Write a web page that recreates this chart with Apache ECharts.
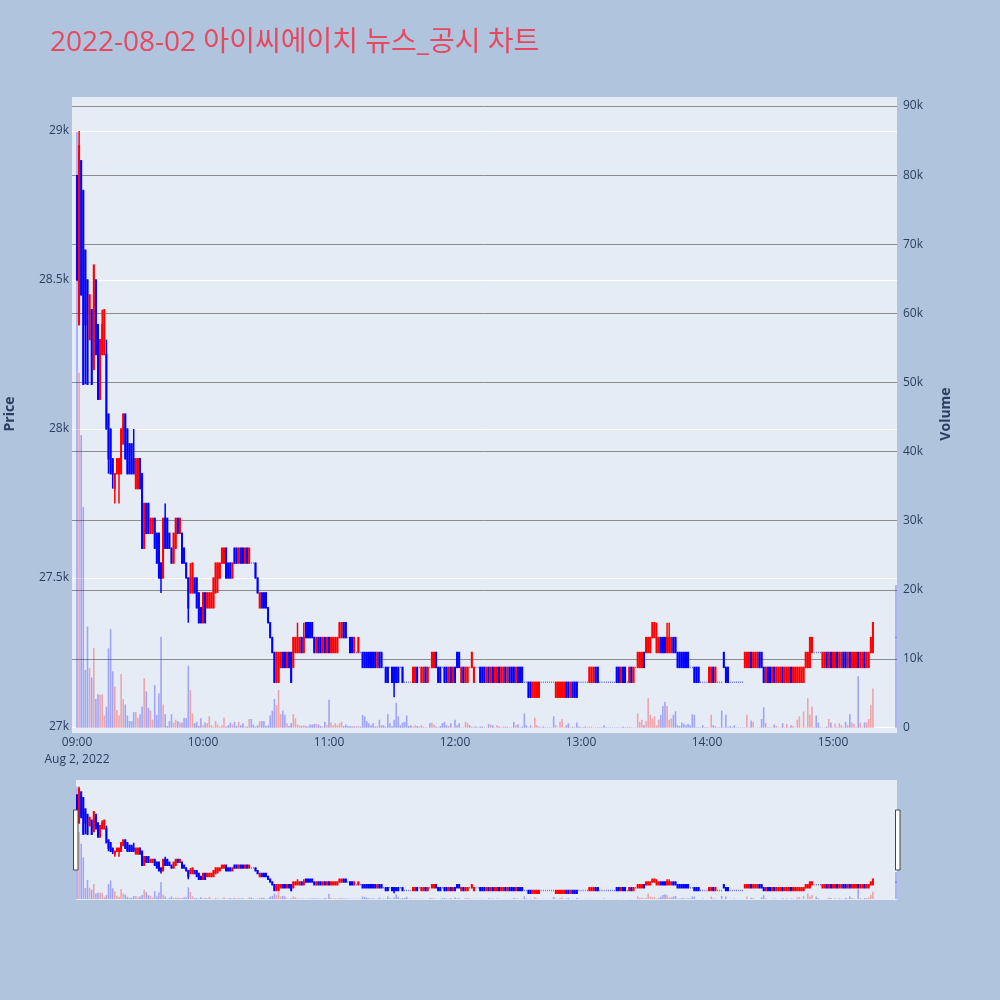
<!DOCTYPE html>
<html>
<head>
<meta charset="utf-8">
<title>2022-08-02 아이씨에이치 뉴스_공시 차트</title>
<script src="https://cdn.jsdelivr.net/npm/echarts@6/dist/echarts.min.js"></script>
<style>
  html, body { margin: 0; padding: 0; background: #b0c4de; }
  #main { width: 1000px; height: 1000px; }
</style>
</head>
<body>
<div id="main"></div>
<script>
// 1분봉 [시가, 종가, 저가, 고가] : 09:00 ~ 15:19, 마지막 행은 15:30 종가 단일가
const ohlc = [
  // 09:00
  [28850,28500,28500,28850],[28350,28950,28350,29000],[28900,28450,28450,28900],[28800,28150,28150,28800],[28600,28350,28150,28600],
  [28500,28150,28150,28500],[28300,28450,28300,28450],[28400,28150,28150,28400],[28200,28550,28200,28550],[28500,28250,28250,28500],
  [28350,28100,28100,28350],[28100,28300,28100,28300],[28250,28350,28250,28400],[28250,28400,28250,28400],[28250,28000,28000,28300],
  [28050,27900,27850,28050],[28000,27850,27850,28000],[27900,27850,27800,27900],[27800,27850,27750,27850],[27850,27900,27850,27900],
  [27850,27900,27750,27900],[27850,28000,27850,28000],[27950,28050,27950,28050],[28050,27900,27900,28050],[28000,27850,27850,28000],
  [27950,27850,27850,27950],[27950,27850,27850,27950],[27900,27850,27850,28000],[27800,27900,27800,27900],[27800,27900,27800,27900],
  [27900,27800,27800,27900],[27850,27600,27600,27850],[27600,27750,27600,27750],[27750,27650,27650,27750],[27750,27650,27650,27750],
  [27650,27700,27650,27700],[27650,27700,27650,27700],[27700,27600,27600,27700],[27650,27550,27550,27650],[27650,27500,27500,27650],
  [27550,27500,27450,27550],[27500,27700,27500,27700],[27700,27600,27600,27750],[27700,27600,27600,27700],[27650,27600,27600,27650],
  [27600,27550,27550,27600],[27550,27650,27550,27650],[27600,27700,27600,27700],[27700,27650,27650,27700],[27650,27700,27650,27700],
  [27650,27550,27550,27650],[27600,27550,27550,27600],[27550,27500,27500,27550],[27500,27400,27350,27500],[27450,27500,27450,27550],
  [27450,27550,27450,27550],[27500,27450,27450,27500],[27500,27400,27400,27500],[27450,27350,27350,27450],[27400,27350,27350,27400],
  // 10:00
  [27350,27450,27350,27450],[27450,27350,27350,27450],[27400,27450,27400,27450],[27400,27450,27400,27450],[27400,27450,27400,27450],
  [27400,27500,27400,27500],[27450,27550,27450,27550],[27500,27550,27450,27550],[27500,27550,27500,27550],[27550,27600,27550,27600],
  [27550,27600,27550,27600],[27600,27500,27500,27600],[27550,27500,27500,27550],[27550,27500,27500,27550],[27500,27550,27500,27550],
  [27600,27550,27550,27600],[27600,27550,27550,27600],[27550,27600,27550,27600],[27600,27550,27550,27600],[27600,27550,27550,27600],
  [27550,27600,27550,27600],[27600,27550,27550,27600],[27550,27600,27550,27600],[27550,27550,27550,27550],[27550,27550,27550,27550],
  [27550,27500,27500,27550],[27500,27450,27450,27500],[27400,27450,27400,27450],[27450,27400,27400,27450],[27450,27400,27400,27450],
  [27450,27400,27400,27450],[27400,27350,27350,27400],[27350,27300,27300,27350],[27300,27250,27250,27300],[27250,27150,27150,27250],
  [27150,27250,27150,27250],[27150,27250,27150,27250],[27200,27250,27200,27250],[27250,27200,27200,27250],[27250,27200,27200,27250],
  [27200,27250,27200,27250],[27250,27200,27200,27250],[27250,27150,27150,27250],[27200,27300,27200,27300],[27250,27300,27250,27300],
  [27250,27300,27250,27350],[27250,27300,27250,27300],[27300,27250,27250,27300],[27250,27300,27250,27350],[27350,27300,27300,27350],
  [27350,27300,27300,27350],[27350,27300,27300,27350],[27350,27300,27300,27350],[27300,27250,27250,27300],[27250,27300,27250,27300],
  [27300,27250,27250,27300],[27300,27250,27250,27300],[27250,27300,27250,27300],[27300,27250,27250,27300],[27250,27300,27250,27300],
  // 11:00
  [27300,27250,27250,27300],[27250,27300,27250,27300],[27250,27300,27250,27300],[27250,27300,27250,27300],[27250,27300,27250,27300],
  [27300,27350,27300,27350],[27300,27350,27300,27350],[27350,27300,27300,27350],[27350,27300,27300,27350],[27300,27300,27300,27300],
  [27300,27250,27250,27300],[27300,27250,27250,27300],[27250,27300,27250,27300],[27250,27250,27250,27250],[27250,27300,27250,27300],
  [27250,27250,27250,27250],[27250,27200,27200,27250],[27250,27200,27200,27250],[27250,27200,27200,27250],[27250,27200,27200,27250],
  [27250,27200,27200,27250],[27250,27200,27200,27250],[27250,27200,27200,27250],[27200,27250,27200,27250],[27250,27200,27200,27250],
  [27250,27200,27200,27250],[27200,27200,27200,27200],[27200,27150,27150,27200],[27200,27150,27150,27200],[27200,27200,27200,27200],
  [27200,27150,27150,27200],[27200,27150,27100,27200],[27200,27150,27150,27200],[27200,27150,27150,27200],[27200,27200,27200,27200],
  [27200,27150,27150,27200],[27150,27150,27150,27150],[27150,27150,27150,27150],[27150,27150,27150,27150],[27150,27150,27150,27150],
  [27150,27200,27150,27200],[27150,27200,27150,27200],[27200,27150,27150,27200],[27200,27200,27200,27200],[27150,27200,27150,27200],
  [27150,27200,27150,27200],[27200,27150,27150,27200],[27150,27200,27150,27200],[27200,27200,27200,27200],[27200,27250,27200,27250],
  [27200,27250,27200,27250],[27250,27200,27200,27250],[27200,27150,27150,27200],[27200,27150,27150,27200],[27200,27200,27200,27200],
  [27200,27150,27150,27200],[27200,27150,27150,27200],[27150,27200,27150,27200],[27200,27150,27150,27200],[27150,27200,27150,27200],
  // 12:00
  [27200,27150,27150,27200],[27250,27200,27200,27250],[27250,27200,27200,27250],[27150,27200,27150,27200],[27200,27150,27150,27200],
  [27150,27200,27150,27200],[27150,27200,27150,27200],[27200,27200,27200,27200],[27200,27250,27200,27250],[27150,27200,27150,27200],
  [27200,27200,27200,27200],[27200,27200,27200,27200],[27200,27150,27150,27200],[27200,27150,27150,27200],[27200,27150,27150,27200],
  [27150,27200,27150,27200],[27200,27150,27150,27200],[27150,27200,27150,27200],[27200,27150,27150,27200],[27150,27200,27150,27200],
  [27150,27200,27150,27200],[27200,27150,27150,27200],[27150,27200,27150,27200],[27150,27200,27150,27200],[27200,27150,27150,27200],
  [27150,27200,27150,27200],[27200,27150,27150,27200],[27200,27150,27150,27200],[27200,27150,27150,27200],[27150,27200,27150,27200],
  [27200,27150,27150,27200],[27200,27150,27150,27200],[27200,27150,27150,27200],[27150,27150,27150,27150],[27150,27150,27150,27150],
  [27150,27100,27100,27150],[27150,27100,27100,27150],[27100,27150,27100,27150],[27100,27150,27100,27150],[27100,27150,27100,27150],
  [27100,27150,27100,27150],[27150,27150,27150,27150],[27150,27150,27150,27150],[27150,27150,27150,27150],[27150,27150,27150,27150],
  [27150,27150,27150,27150],[27150,27150,27150,27150],[27150,27150,27150,27150],[27100,27150,27100,27150],[27100,27150,27100,27150],
  [27100,27150,27100,27150],[27100,27150,27100,27150],[27100,27150,27100,27150],[27150,27100,27100,27150],[27150,27100,27100,27150],
  [27100,27150,27100,27150],[27150,27100,27100,27150],[27150,27100,27100,27150],[27150,27100,27100,27150],[27150,27150,27150,27150],
  // 13:00
  [27150,27150,27150,27150],[27150,27150,27150,27150],[27150,27150,27150,27150],[27150,27150,27150,27150],[27150,27200,27150,27200],
  [27150,27200,27150,27200],[27150,27200,27150,27200],[27200,27150,27150,27200],[27200,27150,27150,27200],[27150,27150,27150,27150],
  [27150,27150,27150,27150],[27150,27150,27150,27150],[27150,27150,27150,27150],[27150,27150,27150,27150],[27150,27150,27150,27150],
  [27150,27150,27150,27150],[27150,27150,27150,27150],[27200,27150,27150,27200],[27200,27150,27150,27200],[27150,27200,27150,27200],
  [27200,27150,27150,27200],[27200,27150,27150,27200],[27150,27150,27150,27150],[27150,27200,27150,27200],[27200,27150,27150,27200],
  [27150,27200,27150,27200],[27200,27200,27200,27200],[27200,27250,27200,27250],[27200,27250,27200,27250],[27200,27250,27200,27250],
  [27250,27200,27200,27250],[27250,27300,27250,27300],[27250,27300,27250,27300],[27250,27300,27250,27300],[27300,27350,27300,27350],
  [27300,27350,27300,27350],[27250,27300,27250,27350],[27250,27300,27250,27300],[27300,27250,27250,27300],[27300,27250,27250,27300],
  [27300,27250,27250,27300],[27250,27300,27250,27350],[27250,27300,27250,27350],[27250,27300,27250,27300],[27300,27250,27250,27300],
  [27300,27250,27250,27300],[27250,27200,27200,27250],[27250,27200,27200,27250],[27250,27200,27200,27250],[27250,27200,27200,27250],
  [27250,27200,27200,27250],[27250,27200,27200,27250],[27200,27200,27200,27200],[27200,27200,27200,27200],[27200,27150,27150,27200],
  [27200,27150,27150,27200],[27200,27150,27150,27200],[27150,27150,27150,27150],[27150,27150,27150,27150],[27150,27150,27150,27150],
  // 14:00
  [27150,27150,27150,27150],[27150,27200,27150,27200],[27150,27200,27150,27200],[27200,27150,27150,27200],[27150,27200,27150,27200],
  [27150,27150,27150,27150],[27150,27150,27150,27150],[27150,27150,27150,27150],[27250,27200,27200,27250],[27200,27150,27150,27200],
  [27200,27150,27150,27200],[27150,27150,27150,27150],[27150,27150,27150,27150],[27150,27150,27150,27150],[27150,27150,27150,27150],
  [27150,27150,27150,27150],[27150,27150,27150,27150],[27150,27150,27150,27150],[27200,27250,27200,27250],[27200,27250,27200,27250],
  [27200,27250,27200,27250],[27250,27200,27200,27250],[27200,27250,27200,27250],[27200,27250,27200,27250],[27200,27250,27200,27250],
  [27250,27200,27200,27250],[27250,27200,27200,27250],[27200,27150,27150,27200],[27150,27200,27150,27200],[27200,27150,27150,27200],
  [27200,27150,27150,27200],[27150,27200,27150,27200],[27200,27150,27150,27200],[27150,27200,27150,27200],[27150,27200,27150,27200],
  [27150,27200,27150,27200],[27200,27150,27150,27200],[27150,27200,27150,27200],[27150,27200,27150,27200],[27150,27200,27150,27200],
  [27200,27150,27150,27200],[27150,27200,27150,27200],[27150,27200,27150,27200],[27150,27200,27150,27200],[27150,27200,27150,27200],
  [27150,27200,27150,27200],[27150,27200,27150,27200],[27200,27250,27200,27250],[27200,27250,27200,27250],[27200,27300,27200,27300],
  [27250,27300,27250,27300],[27250,27250,27250,27250],[27250,27250,27250,27250],[27250,27250,27250,27250],[27250,27250,27250,27250],
  [27200,27250,27200,27250],[27200,27250,27200,27250],[27250,27200,27200,27250],[27200,27250,27200,27250],[27250,27200,27200,27250],
  // 15:00
  [27200,27250,27200,27250],[27200,27250,27200,27250],[27250,27200,27200,27250],[27200,27250,27200,27250],[27200,27250,27200,27250],
  [27250,27200,27200,27250],[27250,27200,27200,27250],[27200,27250,27200,27250],[27250,27200,27200,27250],[27200,27250,27200,27250],
  [27200,27250,27200,27250],[27200,27250,27200,27250],[27250,27200,27200,27250],[27200,27250,27200,27250],[27200,27250,27200,27250],
  [27250,27200,27200,27250],[27200,27250,27200,27250],[27200,27250,27200,27250],[27250,27300,27250,27300],[27250,27350,27250,27350],
  // 15:30 종가
  [27300,27300,27300,27300]
];

// 분봉 거래량 (ohlc와 같은 순서)
const volumes = [
  86200,51400,42400,32000,8400,14700,8700,7300,11600,4200,
  4900,4800,4900,1800,3100,11500,14300,8200,6000,2600,
  1800,7800,4200,3400,1800,1000,1000,2300,2300,1500,
  2000,3100,7200,5300,2900,2500,1200,6200,1900,5000,
  13200,3400,2000,300,1000,2000,800,1200,1000,800,
  800,1500,1400,9000,5500,2100,700,900,300,1400,
  400,800,700,1700,400,200,1000,500,200,400,
  1500,200,400,800,500,900,300,900,400,700,
  200,200,1300,1300,500,200,400,1000,1000,1000,
  300,400,1800,2500,4200,3300,5500,2000,2500,1900,
  700,300,700,2000,1400,500,400,300,400,300,
  200,500,500,600,600,500,300,200,900,400,
  4100,800,400,700,400,700,900,300,500,300,
  300,200,300,200,300,200,1900,1700,1000,700,
  400,700,200,300,1200,400,400,200,2000,700,
  300,1200,3600,1700,400,800,900,1800,300,400,
  200,400,300,200,400,200,100,100,700,800,
  500,200,100,300,700,900,400,300,700,100,
  1200,400,700,100,100,900,700,400,200,200,
  200,100,200,200,100,100,600,500,400,100,
  400,200,100,200,200,200,100,100,900,400,
  500,100,200,2100,400,100,400,100,1500,400,
  200,100,200,100,100,100,100,1700,400,100,
  900,1300,100,400,700,100,200,100,800,200,
  100,100,200,100,200,200,100,100,100,100,
  100,400,100,100,100,100,100,100,100,100,
  200,100,100,200,100,100,100,2100,900,1200,
  400,1000,4300,1900,1400,1700,400,1200,1900,3200,
  3800,3200,1200,1400,1900,2400,400,300,800,600,
  400,600,400,2000,1900,100,100,100,400,100,
  100,100,1900,400,300,100,100,2500,100,1900,
  100,300,100,400,100,100,100,100,100,1900,
  100,1100,900,100,100,100,1300,3000,700,100,
  100,100,500,300,100,100,700,100,600,100,
  400,300,100,1200,1700,100,2400,100,4300,1900,
  3100,100,1800,800,100,100,100,200,1300,800,
  100,600,100,700,400,100,900,400,2000,800,
  600,100,7500,800,100,800,800,1300,3300,5700,
  20700
];

// x축: 09:00 기준 경과 분
const closeAuctionMinute = 390;
const tickMinutes = [0, 60, 120, 180, 240, 300, 360];
const tickLabels = ['09:00', '10:00', '11:00', '12:00', '13:00', '14:00', '15:00'];
const dateLabel = 'Aug 2, 2022';
const priceTicks = [27000, 27500, 28000, 28500, 29000];

const FONT = '"Open Sans", "Noto Sans CJK KR", sans-serif';
const TEXT = '#2a3f5f';
const UP = '#ff0000', DOWN = '#0000ff';
const X_MIN = -2.38, X_MAX = 390.48;
const BODY = 0.5, LINE = 1.5;

const minuteX = ohlc.map((r, i) => (i < ohlc.length - 1 ? i : closeAuctionMinute));
const candleData = ohlc.map((r, i) => [minuteX[i], r[0], r[1], r[2], r[3]]);
const volumeData = volumes.map((v, i) => ({
  value: [minuteX[i], v],
  itemStyle: { color: ohlc[i][1] > ohlc[i][0] ? 'rgba(255,0,0,0.3)' : 'rgba(0,0,255,0.3)' }
}));

// plotly 스타일 캔들 (몸통 채움 + 같은 색 테두리, 보합은 짧은 선)
function renderCandle(params, api) {
  const x = api.value(0), o = api.value(1), c = api.value(2), l = api.value(3), h = api.value(4);
  const pO = api.coord([x, o]), pC = api.coord([x, c]);
  const pL = api.coord([x, l]), pH = api.coord([x, h]);
  const color = c > o ? UP : DOWN;
  const top = Math.min(pO[1], pC[1]), bottom = Math.max(pO[1], pC[1]);
  return {
    type: 'group',
    children: [
      { type: 'line', shape: { x1: pO[0], y1: pH[1], x2: pO[0], y2: pL[1] },
        style: { stroke: color, lineWidth: LINE } },
      { type: 'rect', shape: { x: pO[0] - BODY / 2, y: top, width: BODY, height: bottom - top },
        style: { fill: color, stroke: color, lineWidth: LINE } }
    ]
  };
}

function hiddenX(gridIndex) {
  return { type: 'value', gridIndex: gridIndex, min: X_MIN, max: X_MAX, show: false };
}

var myChart = echarts.init(document.getElementById('main'));

var option = {
  backgroundColor: '#b0c4de',
  animation: false,
  title: {
    text: '2022-08-02 아이씨에이치 뉴스_공시 차트',
    left: 45,
    top: 24,
    textStyle: { fontFamily: FONT, fontSize: 28, fontWeight: 'normal', color: '#e8485f' }
  },
  graphic: [
    { type: 'rect', z: -10, shape: { x: 72, y: 97, width: 825, height: 636 }, style: { fill: '#e5ecf6' } },
    { type: 'rect', z: -10, shape: { x: 76, y: 780, width: 821, height: 120 }, style: { fill: '#e5ecf6' } },
    { type: 'rect', z: 10, shape: { x: 73.5, y: 810, width: 4.5, height: 60 }, style: { fill: '#ffffff', stroke: '#444', lineWidth: 1 } },
    { type: 'rect', z: 10, shape: { x: 895.5, y: 810, width: 4.5, height: 60 }, style: { fill: '#ffffff', stroke: '#444', lineWidth: 1 } },
    { type: 'text', x: 10, y: 414, rotation: Math.PI / 2,
      style: { text: 'Price', fill: TEXT, font: 'bold 14px ' + FONT, align: 'center', verticalAlign: 'middle' } },
    { type: 'text', x: 946, y: 414, rotation: Math.PI / 2,
      style: { text: 'Volume', fill: TEXT, font: 'bold 14px ' + FONT, align: 'center', verticalAlign: 'middle' } }
  ],
  grid: [
    { left: 72, width: 825, top: 131, height: 596 },      // 가격
    { left: 72, width: 825, top: 106, height: 622 },      // 거래량
    { left: 72, width: 825, top: 786.5, height: 112.4 },  // 레인지 슬라이더 가격
    { left: 72, width: 825, top: 781.7, height: 117.4 }   // 레인지 슬라이더 거래량
  ],
  xAxis: [
    {
      type: 'value', gridIndex: 0, min: X_MIN, max: X_MAX,
      axisLine: { show: false }, axisTick: { show: false }, splitLine: { show: false },
      axisLabel: {
        customValues: tickMinutes,
        margin: 7,
        color: TEXT, fontFamily: FONT, fontSize: 12, lineHeight: 17,
        formatter: function (v) {
          const i = tickMinutes.indexOf(v);
          return i === 0 ? tickLabels[0] + '\n' + dateLabel : tickLabels[i];
        }
      }
    },
    hiddenX(1), hiddenX(2), hiddenX(3)
  ],
  yAxis: [
    {
      type: 'value', gridIndex: 0, position: 'left',
      min: 27000, max: 29000, interval: 500,
      axisLine: { show: false }, axisTick: { show: false },
      splitLine: { lineStyle: { color: '#ffffff', width: 1 } },
      axisLabel: {
        margin: 3, color: TEXT, fontFamily: FONT, fontSize: 12,
        formatter: function (v) { return priceTicks.indexOf(v) >= 0 ? (v / 1000) + 'k' : ''; }
      }
    },
    {
      type: 'value', gridIndex: 1, position: 'right',
      min: 0, max: 90000, interval: 10000,
      axisLine: { show: false }, axisTick: { show: false },
      splitLine: { showMinLine: false, lineStyle: { color: '#8c8c8c', width: 1 } },
      axisLabel: {
        margin: 6, color: TEXT, fontFamily: FONT, fontSize: 12,
        formatter: function (v) { return v === 0 ? '0' : (v / 1000) + 'k'; }
      }
    },
    { type: 'value', gridIndex: 2, min: 27000, max: 29000, show: false },
    { type: 'value', gridIndex: 3, min: 0, max: 90000, show: false }
  ],
  series: [
    {
      type: 'bar', name: 'Volume', xAxisIndex: 1, yAxisIndex: 1,
      data: volumeData, barWidth: 1.6, z: 1
    },
    {
      type: 'custom', name: 'Price', xAxisIndex: 0, yAxisIndex: 0,
      data: candleData, encode: { x: 0, y: [1, 2, 3, 4] },
      renderItem: renderCandle, clip: true, z: 3
    },
    {
      type: 'bar', xAxisIndex: 3, yAxisIndex: 3,
      data: volumeData, barWidth: 1.6, z: 1
    },
    {
      type: 'custom', xAxisIndex: 2, yAxisIndex: 2,
      data: candleData, encode: { x: 0, y: [1, 2, 3, 4] },
      renderItem: renderCandle, clip: true, z: 3
    }
  ]
};

myChart.setOption(option);
</script>
</body>
</html>
